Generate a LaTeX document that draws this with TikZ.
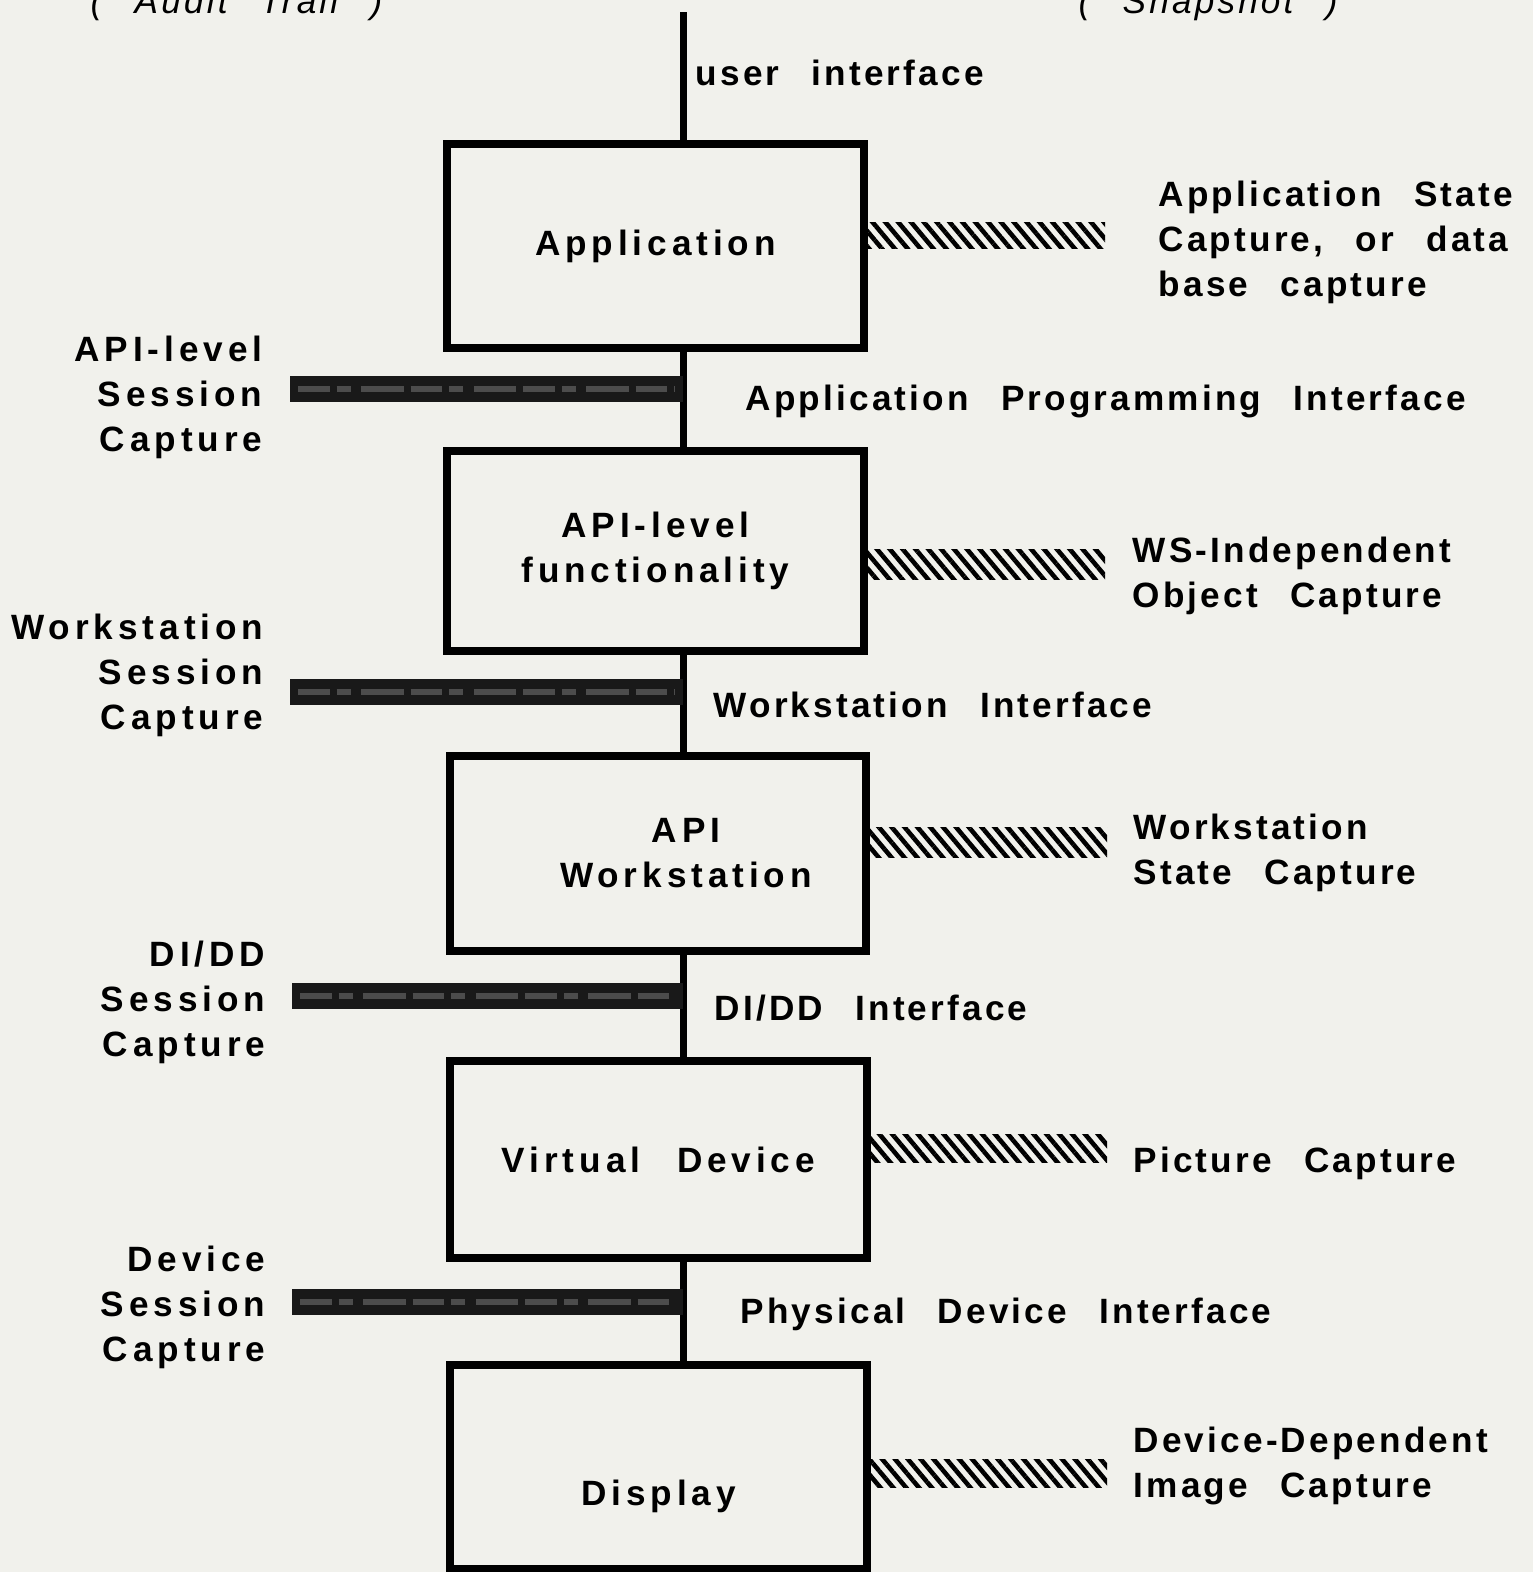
\documentclass[tikz,border=0pt]{standalone}
\usepackage{fontspec}
\setmainfont{Liberation Sans}[LetterSpace=14,WordSpace=2.5]
\newfontfamily\tightfont{Liberation Sans}[LetterSpace=9,WordSpace=2.5]
\usepackage{tikz}
\usetikzlibrary{calc}
\usetikzlibrary{patterns.meta}
\definecolor{paper}{RGB}{241,241,236}

\begin{document}
\begin{tikzpicture}[x=0.01cm,y=-0.01cm,
    txt/.style={font=\fontsize{10}{12.8}\selectfont\bfseries,inner sep=0},
    tight/.style={font=\tightfont\fontsize{10}{12.8}\selectfont\bfseries,inner sep=0},
    layer/.style={txt,draw,line width=0.08cm,minimum width=4.17cm,align=center},
    link/.style={line width=0.07cm},
    sessbar/.style={line width=0.26cm,black!90},
    sessgrain/.style={line width=0.06cm,black!70,dash pattern=on 9pt off 2pt on 4pt off 3pt on 12pt off 2pt},
    statebar/.style={pattern={Lines[angle=-50,distance=2.8pt,line width=1.3pt]}},
    lbl/.style={tight,align=left,anchor=west},
    lbr/.style={txt,align=right,anchor=east}]

    % Page and paper
    \useasboundingbox (0,0) rectangle (1533,1572);
    \clip (0,0) rectangle (1533,1572);
    \fill[paper] (0,0) rectangle (1533,1572);

    % Headings, cut off at the top
    \node[font=\tightfont\fontsize{10}{12}\selectfont\itshape,anchor=base west,inner sep=0] (audit) at (90,13) {( Audit Trail )};
    \node[font=\tightfont\fontsize{10}{12}\selectfont\itshape,anchor=base west,inner sep=0] (snap) at (1078,13) {( Snapshot )};

    % The layers
    \node[layer,minimum height=2.04cm] (app) at (655.5,246) {Application};
    \node[layer,minimum height=2.0cm] (apifun) at (655.5,551) {API-level\\functionality};
    \node[layer,minimum width=4.16cm,minimum height=1.95cm] (apiws) at (658,853.5) {\hspace*{0.56cm}API\\\hspace*{0.56cm}Workstation};
    \node[layer,minimum height=1.97cm] (vdev) at (658.5,1159.5) {Virtual Device};
    \node[layer,minimum height=2.04cm] (disp) at (658.5,1467) {\rule{0pt}{0.85cm}Display};

    % The spine between the layers
    \coordinate (top) at (683,12);
    \draw[link] (top) -- (app.north -| top);
    \draw[link] (app.south -| top) -- (apifun.north -| top);
    \draw[link] (apifun.south -| top) -- (apiws.north -| top);
    \draw[link] (apiws.south -| top) -- (vdev.north -| top);
    \draw[link] (vdev.south -| top) -- (disp.north -| top);

    % Interfaces
    \node[lbl] (ui) at (695,73) {user interface};
    \node[lbl] (api) at (745,401) {Application Programming Interface};
    \node[lbl] (wsi) at (713,705) {Workstation Interface};
    \node[lbl] (ddi) at (714,1008) {DI/DD Interface};
    \node[lbl] (pdi) at (740,1314) {Physical Device Interface};

    % Session capture (audit trail)
    \coordinate (s1) at (290,389);
    \coordinate (s2) at (290,692);
    \coordinate (s3) at (292,996);
    \coordinate (s4) at (292,1302);
    \foreach \s in {s1,s2,s3,s4} {
        \draw[sessbar] (\s) -- (\s -| top);
        \draw[sessgrain] ($(\s)+(8,0)$) -- ($(\s -| top)+(-8,0)$);
    }
    \node[lbr] (l1) at (263,397) {API-level\\Session\\Capture};
    \node[lbr] (l2) at (264,675) {Workstation\\Session\\Capture};
    \node[lbr] (l3) at (266,1002) {DI/DD\\Session\\Capture};
    \node[lbr] (l4) at (266,1307) {Device\\Session\\Capture};

    % State capture (snapshot)
    \coordinate (c1) at (1105,235);
    \coordinate (c2) at (1105,564);
    \coordinate (c3) at (1107,842);
    \coordinate (c4) at (1107,1148);
    \coordinate (c5) at (1107,1473);
    \fill[statebar] ($(app.east |- c1)+(0,-13)$) rectangle ($(c1)+(0,13)$);
    \fill[statebar] ($(apifun.east |- c2)+(0,-15)$) rectangle ($(c2)+(0,15)$);
    \fill[statebar] ($(apiws.east |- c3)+(0,-15)$) rectangle ($(c3)+(0,15)$);
    \fill[statebar] ($(vdev.east |- c4)+(0,-14)$) rectangle ($(c4)+(0,14)$);
    \fill[statebar] ($(disp.east |- c5)+(0,-14)$) rectangle ($(c5)+(0,14)$);
    \node[lbl] (r1) at (1158,242) {Application State\\Capture, or data\\base capture};
    \node[lbl] (r2) at (1132,576) {WS-Independent\\Object Capture};
    \node[lbl] (r3) at (1133,853) {Workstation\\State Capture};
    \node[lbl] (r4) at (1133,1163) {Picture Capture};
    \node[lbl] (r5) at (1133,1466) {Device-Dependent\\Image Capture};
\end{tikzpicture}
\end{document}
